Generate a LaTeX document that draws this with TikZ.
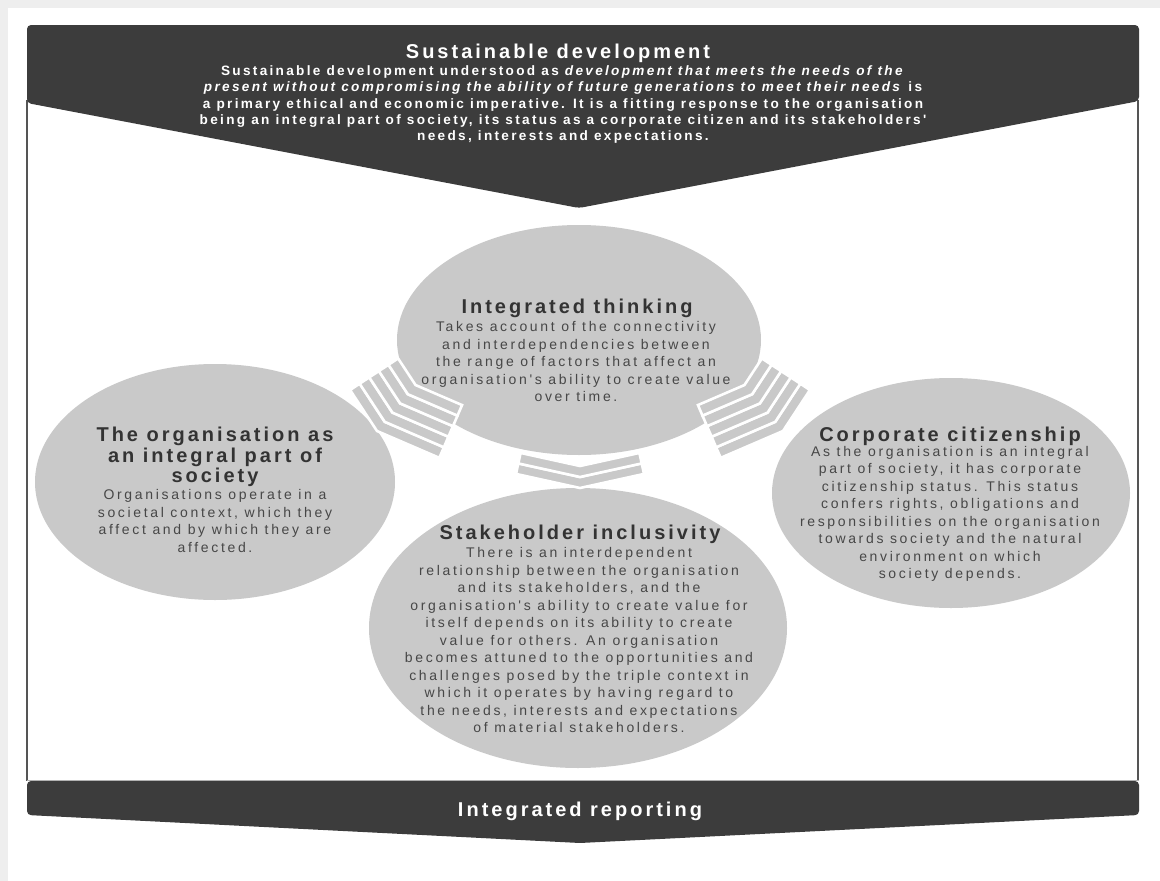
\documentclass[tikz,border=0pt]{standalone}
\usepackage{fontspec}
\setmainfont{Liberation Sans}
\newfontfamily\headfont[LetterSpace=15]{Liberation Sans}
\newfontfamily\copyfont[LetterSpace=19]{Liberation Sans}
\newfontfamily\bannerfont[LetterSpace=17]{Liberation Sans}
\usetikzlibrary{shapes.geometric}

\definecolor{bannerfill}{HTML}{3C3C3C}
\definecolor{discgray}{HTML}{C9C9C9}
\definecolor{headtxt}{HTML}{333333}
\definecolor{bodytxt}{HTML}{474747}
\definecolor{pageedge}{HTML}{EEEEEE}
\definecolor{framegray}{HTML}{555555}

% One set of nested chevron stripes, vertex of the outermost stripe at the
% origin, pointing towards +y (down).  #1 stripes, #2 left arm, #3 right arm,
% #4 arm slope, #5 pitch between stripes.  Arm ends are cut square to the arm.
\newcommand\chevronset[5]{%
  \pgfmathsetmacro\chN{1+(#4)*(#4)}%
  \foreach \k in {1,...,#1}{%
    \pgfmathsetmacro\chLo{(\k-1)*(#5)}%
    \pgfmathsetmacro\chHi{\k*(#5)}%
    \pgfmathsetmacro\chALo{#2-(#4)*\chLo/\chN}%
    \pgfmathsetmacro\chAHi{#2-(#4)*\chHi/\chN}%
    \pgfmathsetmacro\chBLo{#3-(#4)*\chLo/\chN}%
    \pgfmathsetmacro\chBHi{#3-(#4)*\chHi/\chN}%
    \path[chevstripe] ({-\chALo},{-\chLo-(#4)*\chALo}) -- (0,{-\chLo})
      -- (\chBLo,{-\chLo-(#4)*\chBLo}) -- (\chBHi,{-\chHi-(#4)*\chBHi})
      -- (0,{-\chHi}) -- ({-\chAHi},{-\chHi-(#4)*\chAHi}) -- cycle;
  }%
}

\begin{document}
\begin{tikzpicture}[x=1pt, y=-1pt,
  discnode/.style={ellipse, fill=discgray, inner sep=0pt},
  circtitle/.style={font=\headfont\bfseries\fontsize{20}{20.5}\selectfont,
    text=headtxt, align=center, inner sep=0pt},
  circbody/.style={font=\copyfont\fontsize{14}{17.5}\selectfont,
    text=bodytxt, align=center, inner sep=0pt},
  bannertitle/.style={font=\headfont\bfseries\fontsize{20}{20.5}\selectfont,
    text=white, align=center, inner sep=0pt},
  bannerbody/.style={font=\bannerfont\bfseries\fontsize{13.6}{16.25}\selectfont,
    text=white, align=center, inner sep=0pt},
  chevstripe/.style={fill=discgray, draw=white, line width=2.6pt, line join=miter},
  frameline/.style={draw=framegray, line width=1.2pt},
  bannershape/.style={fill=bannerfill, rounded corners=4pt}]

\useasboundingbox (0,0) rectangle (1160,881);
\fill[white] (0,0) rectangle (1160,881);
\fill[pageedge] (0,0) rectangle (1160,8);
\fill[pageedge] (0,0) rectangle (8,881);

% side rules of the frame
\draw[frameline] (27,100) -- (27,781);
\draw[frameline] (1138,100) -- (1138,781);

% top banner
\path[bannershape] (27,25) -- (1139,25) -- (1139,101) -- (579,208) -- (27,103) -- cycle;
\node[bannertitle] (sdtitle) at (558,53) {Sustainable development};
\node[bannerbody] (sdtext) at (563,104.5) {Sustainable development understood as \textit{development that meets the needs of the}\\
\textit{present without compromising the ability of future generations to meet their needs} is\\
a primary ethical and economic imperative. It is a fitting response to the organisation\\
being an integral part of society, its status as a corporate citizen and its stakeholders'\\
needs, interests and expectations.};

% bottom banner
\draw[draw=gray!60, line width=0.8pt] (27,780) -- (1139,780);
\path[bannershape] (27,781) -- (1139,781) -- (1139,815) -- (580,843) -- (27,815) -- cycle;
\node[bannertitle] (irtitle) at (580,811) {Integrated reporting};

% the four discs
\node[discnode, minimum width=364pt, minimum height=230pt] (think) at (579,340) {};
\node[discnode, minimum width=360pt, minimum height=236pt] (society) at (215,482) {};
\node[discnode, minimum width=358pt, minimum height=230pt] (citizen) at (951,493) {};
\node[discnode, minimum width=418pt, minimum height=280pt] (stake) at (578,628) {};

% chevrons leading from the centre disc to the other three
\begin{scope}[shift={(377,431)}, rotate=-40]
  \chevronset{5}{47}{65}{0.3}{12}
\end{scope}
\begin{scope}[shift={(783,431)}, rotate=40]
  \chevronset{5}{65}{47}{0.3}{12}
\end{scope}
\begin{scope}[shift={(580,488)}]
  \chevronset{2}{64}{64}{0.22}{11}
\end{scope}

% disc texts
\node[circtitle] (thinktitle) at (577,308) {Integrated thinking};
\node[circbody] (thinktext) at (576,361.5) {Takes account of the connectivity\\
and interdependencies between\\
the range of factors that affect an\\
organisation's ability to create value\\
over time.};

\node[circtitle] (societytitle) at (215,457) {The organisation as\\an integral part of\\society};
\node[circbody] (societytext) at (215,521) {Organisations operate in a\\
societal context, which they\\
affect and by which they are\\
affected.};

\node[circtitle] (citizentitle) at (950,436) {Corporate citizenship};
\node[circbody] (citizentext) at (950,514) {As the organisation is an integral\\
part of society, it has corporate\\
citizenship status. This status\\
confers rights, obligations and\\
responsibilities on the organisation\\
towards society and the natural\\
environment on which\\
society depends.};

\node[circtitle] (staketitle) at (580,534) {Stakeholder inclusivity};
\node[circbody] (staketext) at (579,640) {There is an interdependent\\
relationship between the organisation\\
and its stakeholders, and the\\
organisation's ability to create value for\\
itself depends on its ability to create\\
value for others. An organisation\\
becomes attuned to the opportunities and\\
challenges posed by the triple context in\\
which it operates by having regard to\\
the needs, interests and expectations\\
of material stakeholders.};
\end{tikzpicture}
\end{document}
